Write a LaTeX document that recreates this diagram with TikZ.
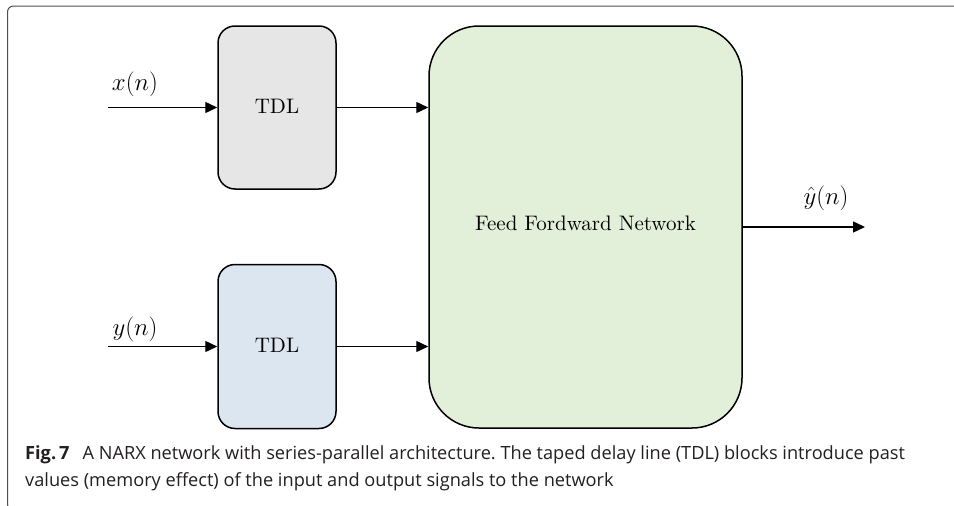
\documentclass[tikz,border=0pt]{standalone}
\usepackage{fontspec}
\usepackage{graphicx}
\newfontfamily\capfont{Open Sans}
\usetikzlibrary{arrows.meta}
\frenchspacing
\definecolor{tdlgray}{HTML}{E6E6E6}
\definecolor{tdlblue}{HTML}{DCE6F0}
\definecolor{ffngreen}{HTML}{E2F0D9}
\definecolor{framegray}{HTML}{4D4D4D}
\definecolor{captext}{HTML}{231F20}
\newcommand{\bigtxt}[2]{\raisebox{#1}{\scalebox{2.1}{\fontsize{10}{12}\selectfont #2}}}
\tikzset{
  block/.style={draw=black, line width=1.5pt, align=center, inner sep=0pt},
  arr/.style={line width=1.4pt, -{Triangle[length=12pt,width=11pt]}},
  mlabel/.style={inner sep=0pt, font=\fontsize{23}{28}\selectfont},
  captxt/.style={inner sep=0pt, anchor=base west, text=captext,
    font=\capfont\fontsize{18.2}{27}\selectfont}
}
\begin{document}
\begin{tikzpicture}[x=1pt,y=-1pt]
\useasboundingbox (0,0) rectangle (954,506);
\begin{scope}
  \clip (0,0) rectangle (954,506);
  \draw[framegray, line width=1pt, rounded corners=6pt] (980,6) -- (7.5,6) -- (7.5,510) -- (980,510);
\end{scope}

\node[block, fill=tdlgray, minimum width=118pt, minimum height=163pt, rounded corners=17pt] (tdl1) at (277,107.5) {\bigtxt{3pt}{TDL}};
\node[block, fill=tdlblue, minimum width=118pt, minimum height=164pt, rounded corners=17pt] (tdl2) at (277,346.5) {\bigtxt{2pt}{TDL}};
\node[block, fill=ffngreen, minimum width=313pt, minimum height=402pt, rounded corners=50pt] (ffn) at (585.5,227) {\bigtxt{7pt}{Feed Fordward Network}};

\coordinate (xin) at (108,107.5);
\coordinate (yin) at (108,346.5);
\coordinate (yout) at (865,227);

\draw[arr] (xin) -- (tdl1.west);
\draw[arr] (yin) -- (tdl2.west);
\draw[arr] (tdl1.east) -- (ffn.west |- tdl1.east);
\draw[arr] (tdl2.east) -- (ffn.west |- tdl2.east);
\draw[arr] (ffn.east) -- (yout);

\node[mlabel] (xlab) at (135,84) {$x(n)$};
\node[mlabel] (ylab) at (135,329) {$y(n)$};
\node[mlabel] (yhlab) at (826,198) {$\hat{y}(n)$};

\node[captxt] (cap1) at (25,459) {\textbf{Fig.\,7}\hspace{0.45em} A NARX network with series-parallel architecture. The taped delay line (TDL) blocks introduce past};
\node[captxt] (cap2) at (25,486) {values (memory effect) of the input and output signals to the network};
\end{tikzpicture}
\end{document}
